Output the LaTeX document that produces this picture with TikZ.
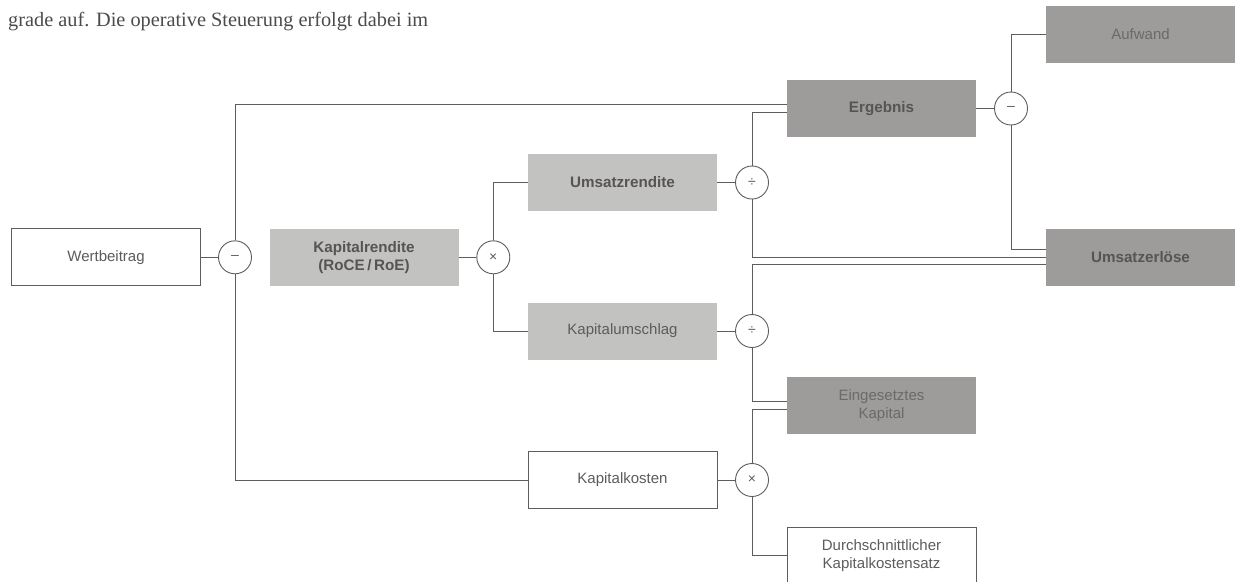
\documentclass[tikz,border=0pt]{standalone}
\usepackage{fontspec}
\setmainfont{Liberation Sans}
\newfontfamily\bodyserif{Liberation Serif}
\definecolor{linec}{HTML}{5F5D5B}
\definecolor{darkg}{HTML}{9D9C9A}
\definecolor{lightg}{HTML}{C2C2C1}
\definecolor{txtbold}{HTML}{575452}
\definecolor{txtreg}{HTML}{5E5C5A}
\definecolor{txtdark}{HTML}{6C6A68}
\definecolor{bodytxt}{HTML}{4B4B4B}
\tikzset{
  kbox/.style={rectangle, minimum width=189pt, minimum height=57pt, inner sep=0pt, align=center,
    font=\fontsize{15}{18.4}\selectfont},
  whitebox/.style={kbox, draw=linec, line width=0.8pt, fill=white, text=txtreg},
  lightbox/.style={kbox, fill=lightg, text=txtreg},
  darkbox/.style={kbox, fill=darkg, text=txtdark},
  boldtxt/.style={font=\bfseries\fontsize{15.2}{18}\selectfont, text=txtbold},
  op/.style={circle, draw=linec, line width=0.9pt, fill=white, minimum size=33pt, inner sep=0pt,
    font=\fontsize{14}{14}\selectfont, text=txtreg},
  conn/.style={draw=linec, line width=0.9pt}
}
\begin{document}
\begin{tikzpicture}[x=1pt,y=-1pt]
\useasboundingbox (0,0) rectangle (1239,581);

\node[anchor=base west, inner sep=0pt, font=\bodyserif\fontsize{20.3}{24}\selectfont, text=bodytxt] (body) at (8,26) {grade auf. Die operative Steuerung erfolgt dabei im};

% boxes
\node[whitebox] (wert) at (106,257.3) {Wertbeitrag};
\node[lightbox, boldtxt] (kr) at (364,257.3) {Kapitalrendite\\(RoCE\,/\,RoE)};
\node[lightbox, boldtxt] (ur) at (622.5,182.5) {Umsatzrendite};
\node[lightbox] (ku) at (622.5,331) {Kapitalumschlag};
\node[whitebox] (kk) at (622.5,480) {Kapitalkosten};
\node[darkbox, boldtxt] (erg) at (881.5,108.5) {Ergebnis};
\node[darkbox] (ek) at (881.5,405.5) {Eingesetztes\\Kapital};
\node[whitebox] (ds) at (881.5,555.5) {Durchschnittlicher\\Kapitalkostensatz};
\node[darkbox] (auf) at (1140.5,34.5) {Aufwand};
\node[darkbox, boldtxt] (ue) at (1140.5,257.3) {Umsatzerlöse};

% operators
\node[op] (op1) at (235,257.3) {–};
\node[op] (op2) at (493.3,257.3) {×};
\node[op] (op3) at (752,182.5) {÷};
\node[op] (op4) at (752,331) {÷};
\node[op] (op5) at (752,480) {×};
\node[op] (op6) at (1011,108.5) {–};

% connectors
\draw[conn] (wert.east) -- (op1.west);
\draw[conn] (op1.north) |- ([yshift=4.5pt]erg.west);
\draw[conn] (op1.south) |- (kk.west);
\draw[conn] (kr.east) -- (op2.west);
\draw[conn] (op2.north) |- (ur.west);
\draw[conn] (op2.south) |- (ku.west);
\draw[conn] (ur.east) -- (op3.west);
\draw[conn] (op3.north) |- ([yshift=-3.5pt]erg.west);
\draw[conn] (op3.south) |- (ue.west);
\draw[conn] (ku.east) -- (op4.west);
\draw[conn] (op4.north) |- ([yshift=-7pt]ue.west);
\draw[conn] (op4.south) |- ([yshift=4.5pt]ek.west);
\draw[conn] (kk.east) -- (op5.west);
\draw[conn] (op5.north) |- ([yshift=-3.5pt]ek.west);
\draw[conn] (op5.south) |- (ds.west);
\draw[conn] (erg.east) -- (op6.west);
\draw[conn] (op6.north) |- (auf.west);
\draw[conn] (op6.south) |- ([yshift=8pt]ue.west);
\end{tikzpicture}
\end{document}
